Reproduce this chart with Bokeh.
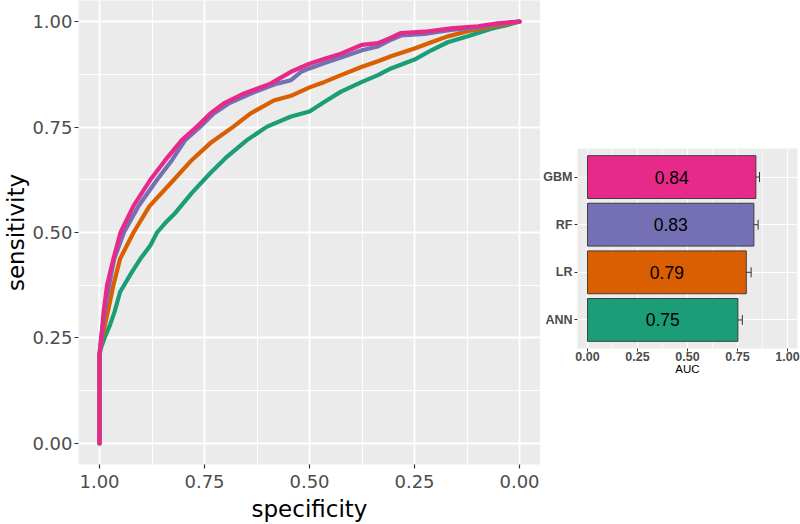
from bokeh.plotting import figure
from bokeh.layouts import row, column
from bokeh.models import Range1d, FixedTicker, PrintfTickFormatter, ColumnDataSource, Whisker, TeeHead, Spacer
from bokeh.embed import file_html
from bokeh.resources import INLINE
from bokeh.core.properties import value

# ---------------- data ----------------
models = ["ANN", "LR", "RF", "GBM"]
colors = ["#1B9E77", "#D95F02", "#7570B3", "#E7298A"]

ann_spec = [1.0, 1.0, 0.997, 0.988, 0.975, 0.964, 0.951, 0.923, 0.903, 0.879, 0.863, 0.843, 0.819,
            0.780, 0.736, 0.696, 0.649, 0.601, 0.544, 0.500, 0.464, 0.425, 0.375, 0.337, 0.306,
            0.250, 0.210, 0.171, 0.123, 0.067, 0.036, 0.0]
ann_sens = [0.0, 0.21, 0.225, 0.25, 0.281, 0.3125, 0.359, 0.406, 0.437, 0.469, 0.5, 0.523, 0.547,
            0.594, 0.641, 0.680, 0.719, 0.751, 0.775, 0.787, 0.810, 0.834, 0.857, 0.873, 0.889,
            0.910, 0.932, 0.951, 0.965, 0.983, 0.990, 1.0]

lr_spec = [1.0, 1.0, 0.997, 0.994, 0.980, 0.967, 0.951, 0.919, 0.881, 0.823, 0.780, 0.736, 0.681,
           0.641, 0.585, 0.544, 0.500, 0.464, 0.425, 0.375, 0.337, 0.306, 0.250, 0.210, 0.171,
           0.123, 0.067, 0.0]
lr_sens = [0.0, 0.21, 0.23, 0.25, 0.3125, 0.375, 0.4375, 0.5, 0.5625, 0.625, 0.672, 0.712, 0.751,
           0.782, 0.813, 0.824, 0.844, 0.857, 0.873, 0.893, 0.906, 0.918, 0.936, 0.951, 0.965,
           0.977, 0.988, 1.0]

rf_spec = [1.0, 1.0, 0.996, 0.988, 0.977, 0.965, 0.942, 0.907, 0.863, 0.827, 0.796, 0.760, 0.728,
           0.692, 0.641, 0.600, 0.577, 0.544, 0.520, 0.500, 0.464, 0.425, 0.375, 0.337, 0.306,
           0.282, 0.226, 0.163, 0.099, 0.052, 0.0]
rf_sens = [0.0, 0.21, 0.25, 0.3125, 0.375, 0.437, 0.5, 0.563, 0.625, 0.672, 0.719, 0.751, 0.782,
           0.806, 0.829, 0.845, 0.853, 0.861, 0.881, 0.889, 0.902, 0.915, 0.932, 0.941, 0.957,
           0.967, 0.971, 0.980, 0.986, 0.994, 1.0]

gbm_spec = [1.0, 1.0, 0.996, 0.990, 0.982, 0.967, 0.950, 0.919, 0.879, 0.843, 0.804, 0.768, 0.736,
            0.704, 0.657, 0.593, 0.540, 0.500, 0.464, 0.425, 0.375, 0.337, 0.306, 0.282, 0.226,
            0.163, 0.099, 0.052, 0.0]
gbm_sens = [0.0, 0.21, 0.25, 0.3125, 0.375, 0.437, 0.5, 0.563, 0.625, 0.672, 0.719, 0.751, 0.782,
            0.806, 0.829, 0.853, 0.883, 0.900, 0.912, 0.924, 0.945, 0.949, 0.962, 0.973, 0.976,
            0.984, 0.989, 0.996, 1.0]

auc = [0.752, 0.794, 0.832, 0.842]
auc_lo = [0.732, 0.775, 0.814, 0.826]
auc_hi = [0.774, 0.818, 0.853, 0.860]

ticks = [0.0, 0.25, 0.5, 0.75, 1.0]
minor_ticks = [0.125, 0.375, 0.625, 0.875]

# ---------------- main ROC figure ----------------
p = figure(width=540, height=524,
           x_range=Range1d(1.05, -0.05), y_range=Range1d(-0.05, 1.05),
           min_border_left=78, min_border_right=0, min_border_top=0, min_border_bottom=58,
           output_backend="svg", toolbar_location=None)
p.background_fill_color = "#EBEBEB"
p.border_fill_color = "white"
p.outline_line_color = None

for ax in (p.xaxis[0], p.yaxis[0]):
    ax.ticker = FixedTicker(ticks=ticks, minor_ticks=minor_ticks)
    ax.formatter = PrintfTickFormatter(format="%.2f")
    ax.axis_line_color = None
    ax.major_tick_line_color = "#333333"
    ax.major_tick_line_width = 1.2
    ax.major_tick_out = 4
    ax.major_tick_in = 0
    ax.minor_tick_line_color = None
    ax.major_label_text_font = "DejaVu Sans"
    ax.major_label_text_font_size = "18px"
    ax.major_label_text_color = "#4D4D4D"
    ax.axis_label_text_font = "DejaVu Sans"
    ax.axis_label_text_font_size = "23px"
    ax.axis_label_text_font_style = "normal"
    ax.axis_label_text_color = "black"
p.xaxis.axis_label = "specificity"
p.yaxis.axis_label = "sensitivity"
p.xaxis.major_label_standoff = 6
p.xaxis.axis_label_standoff = 5
p.yaxis.major_label_standoff = 2
p.yaxis.axis_label_standoff = 0

p.grid.grid_line_color = "white"
p.grid.grid_line_width = 1.8
p.grid.minor_grid_line_color = "white"
p.grid.minor_grid_line_width = 0.9

curves = [(ann_spec, ann_sens), (lr_spec, lr_sens), (rf_spec, rf_sens), (gbm_spec, gbm_sens)]
for (sx, sy), c in zip(curves, colors):
    p.line(sx, sy, line_color=c, line_width=4.2, line_join="round", line_cap="round")

# ---------------- inset AUC bar chart ----------------
ypos = [i + 1 for i in range(len(models))]
mid = [a / 2 for a in auc]
auc_text = ["%.2f" % a for a in auc]
src = ColumnDataSource(dict(y=ypos, auc=auc, lo=auc_lo, hi=auc_hi, mid=mid,
                            txt=auc_text, color=colors))

q = figure(width=260, height=376,
           x_range=Range1d(-0.05, 1.05), y_range=Range1d(0.4, 4.6),
           min_border_left=36, min_border_right=3, min_border_top=0, min_border_bottom=176,
           output_backend="svg", toolbar_location=None)
q.background_fill_color = "#EBEBEB"
q.border_fill_color = "white"
q.outline_line_color = None

q.xaxis.ticker = FixedTicker(ticks=ticks, minor_ticks=minor_ticks)
q.xaxis.formatter = PrintfTickFormatter(format="%.2f")
q.yaxis.ticker = FixedTicker(ticks=ypos)
q.yaxis.major_label_overrides = {y: m for y, m in zip(ypos, models)}
for ax in (q.xaxis[0], q.yaxis[0]):
    ax.axis_line_color = None
    ax.major_tick_line_color = "#333333"
    ax.major_tick_out = 3
    ax.major_tick_in = 0
    ax.minor_tick_line_color = None
    ax.major_label_text_font = "Liberation Sans"
    ax.major_label_text_font_style = "bold"
    ax.major_label_text_font_size = "12.5px"
    ax.major_label_text_color = "#4D4D4D"
q.xaxis.major_label_standoff = -1
q.yaxis.major_label_standoff = 2
q.xaxis.axis_label = "AUC"
q.xaxis.axis_label_text_font = "Liberation Sans"
q.xaxis.axis_label_text_font_size = "11.5px"
q.xaxis.axis_label_text_font_style = "normal"
q.xaxis.axis_label_text_color = "black"
q.xaxis.axis_label_standoff = -1

q.grid.grid_line_color = "white"
q.grid.grid_line_width = 1.2
q.xgrid.minor_grid_line_color = "white"
q.xgrid.minor_grid_line_width = 0.6

q.hbar(y="y", left=0, right="auc", height=0.9, fill_color="color", line_color="#333333",
       line_width=0.9, source=src)
q.text(x="mid", y="y", text="txt", text_align="center", text_baseline="middle",
       text_font=value("Liberation Sans"), text_font_size=value("17.5px"),
       text_color="black", source=src)
wk = Whisker(source=src, base="y", lower="lo", upper="hi", dimension="width",
             line_color="#333333", line_width=1,
             lower_head=TeeHead(size=10, line_color="#333333", line_width=1),
             upper_head=TeeHead(size=10, line_color="#333333", line_width=1))
q.add_layout(wk)

inset = column(Spacer(width=260, height=148), q)
layout = row(p, inset)
open("out.html", "w").write(file_html(layout, INLINE))
